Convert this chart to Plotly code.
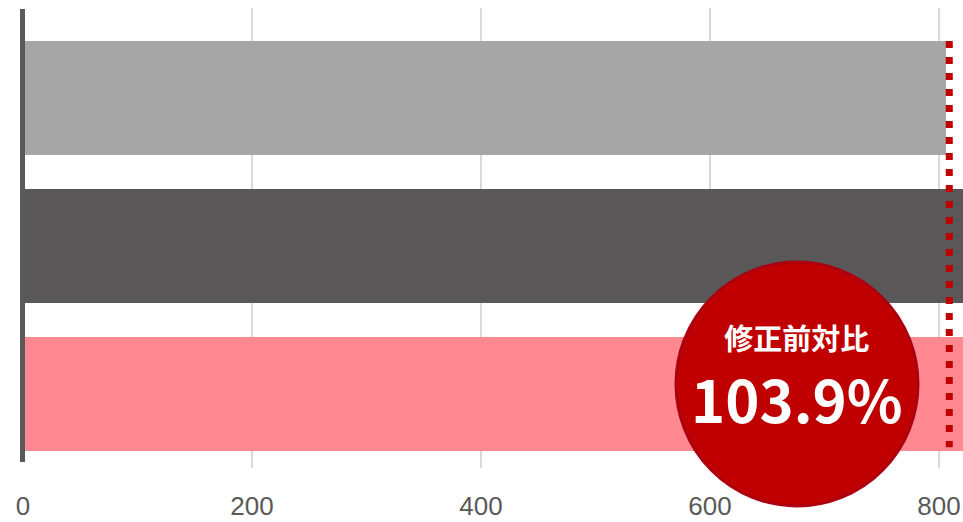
import plotly.graph_objects as go

categories = ["A", "B", "C"]
values = [806, 850, 850]
bar_colors = ["#a6a6a6", "#595757", "#ff8891"]
ref_value = 808
tick_vals = [0, 200, 400, 600, 800]
tick_text = ["0", "200", "400", "600", "800"]
badge_title = "修正前対比"
badge_value = "103.9%"

W, H = 963, 522
ml, mr, mt, mb = 23, 0, 8, 54
pw, ph = W - ml - mr, H - mt - mb

def px(x):
    return (x - ml) / pw

def py(y):
    return (H - mb - y) / ph

fig = go.Figure()
fig.add_trace(go.Bar(
    y=categories, x=values, orientation="h",
    marker=dict(color=bar_colors, line=dict(width=0)),
    width=0.77, hoverinfo="skip",
))

shapes = [
    # left axis line
    dict(type="line", xref="paper", yref="paper", x0=px(22.5), x1=px(22.5),
         y0=py(462), y1=py(9), line=dict(color="#595959", width=5), layer="above"),
    # dotted reference line
    dict(type="line", xref="x", yref="y", x0=ref_value + 1, x1=ref_value + 1,
         y0=-0.385, y1=2.36, line=dict(color="#c00000", width=7, dash="7px,9px"),
         layer="above"),
    # badge circle
    dict(type="circle", xref="paper", yref="paper",
         x0=px(676), x1=px(918), y0=py(506), y1=py(262),
         fillcolor="#c00000", line=dict(color="#ac0010", width=3), layer="above"),
]

badge_text = (f"<span style='font-size:29px'>{badge_title}</span><br>"
              f"<span style='font-size:58px'>{badge_value}</span>")

annotations = [
    dict(xref="paper", yref="paper", x=px(797), y=py(378), text=badge_text,
         showarrow=False, xanchor="center", yanchor="middle", align="center",
         font=dict(family="Noto Sans CJK JP", size=56, color="white", weight="bold")),
]

fig.update_layout(
    width=W, height=H,
    margin=dict(l=ml, r=mr, t=mt, b=mb, pad=0),
    plot_bgcolor="white", paper_bgcolor="white",
    showlegend=False,
    shapes=shapes, annotations=annotations,
    bargap=0,
    xaxis=dict(range=[0, 821], tickvals=tick_vals, ticktext=tick_text,
               showgrid=True, gridcolor="#d9d9d9", gridwidth=1.5,
               zeroline=False, showline=False, ticks="", automargin=False,
               tickfont=dict(family="Liberation Sans Narrow, Arial Narrow, sans-serif",
                             size=26, color="#595959"),
               ticklabelstandoff=20),
    yaxis=dict(range=[2.5, -0.608], showticklabels=False, showgrid=False,
               zeroline=False, showline=False, ticks="", automargin=False),
)

fig.write_html("out.html")
